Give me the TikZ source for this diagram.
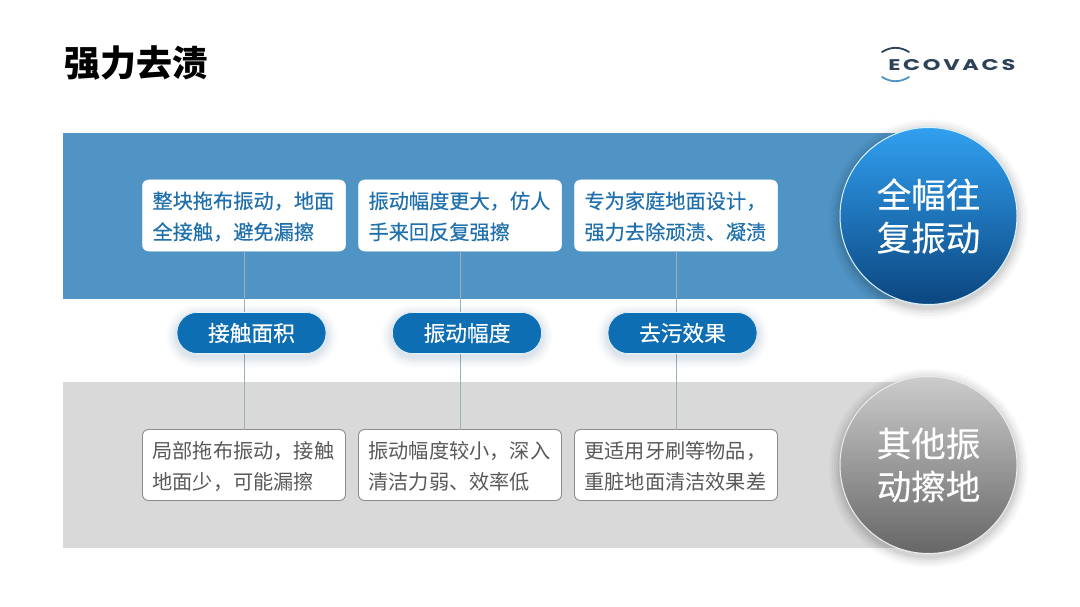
\documentclass[tikz,border=0pt]{standalone}
\usepackage{fontspec}
\setmainfont{Noto Sans CJK SC}
\newfontfamily\medfont[FakeBold=0.35]{Noto Sans CJK SC}
\newfontfamily\logofont[LetterSpace=12]{Poppins}
\usetikzlibrary{positioning}

\definecolor{bandblue}{HTML}{4F94C4}
\definecolor{bandgrey}{HTML}{D9D9D9}
\definecolor{textblue}{HTML}{1F70AC}
\definecolor{textgrey}{HTML}{595959}
\definecolor{pillblue}{HTML}{0E6EB4}
\definecolor{pillglow}{HTML}{3F6F95}
\definecolor{logonavy}{HTML}{2C4258}
\definecolor{linkgrey}{HTML}{9DB0BA}
\definecolor{disctop}{HTML}{31A0F0}
\definecolor{discmid}{HTML}{0F6EB8}
\definecolor{discbot}{HTML}{0B4680}

\tikzset{
  softglow/.style={
    preaction={draw=#1, opacity=.025, line width=22pt, transform canvas={yshift=-3pt}},
    preaction={draw=#1, opacity=.03, line width=17pt, transform canvas={yshift=-3pt}},
    preaction={draw=#1, opacity=.03, line width=12pt, transform canvas={yshift=-3pt}},
    preaction={draw=#1, opacity=.04, line width=8pt, transform canvas={yshift=-3pt}},
    preaction={draw=#1, opacity=.05, line width=4pt, transform canvas={yshift=-3pt}}
  },
  band/.style={anchor=north west, inner sep=0pt, minimum width=865pt, minimum height=166pt},
  upbox/.style={rectangle, rounded corners=6pt, fill=white, draw=white, line width=0.5pt, outer sep=0pt, minimum width=203pt, minimum height=71pt, inner xsep=10pt, inner ysep=0pt, text width=183pt, align=left, text depth=31pt, text=textblue, font=\fontsize{20.2}{31}\medfont},
  lowbox/.style={upbox, draw=gray!90, line width=0.9pt, text=textgrey, font=\fontsize{20.2}{31}\selectfont},
  pill/.style={rectangle, rounded corners=20pt, fill=pillblue, draw=cyan!12, line width=0.7pt, outer sep=0pt, minimum width=149pt, minimum height=41pt, inner sep=0pt, text=white, font=\fontsize{21.7}{24}\medfont, softglow=pillglow},
  disc/.style={circle, minimum size=177pt, inner sep=0pt, align=center, text=white, font=\fontsize{34.5}{43}\medfont, softglow=black},
  link/.style={linkgrey, line width=0.5pt}
}

\begin{document}
\begin{tikzpicture}[x=1pt, y=-1pt, node distance=13pt]
  \useasboundingbox[fill=white] (0,0) rectangle (1080,607);

  % Title and logo
  \node[anchor=west, inner sep=0pt, font=\fontsize{36}{40}\selectfont\bfseries] (title) at (64,63) {强力去渍};
  \node[anchor=west, inner sep=0pt, xscale=1.45, text=logonavy, font=\fontsize{15.5}{18}\logofont\bfseries] (logo) at (888,65.5) {ECOVACS};
  \draw[logonavy, line width=1.8pt, line cap=round] (882,52) to[bend left=32] (909,52);
  \draw[bandblue, line width=1.8pt, line cap=round] (882,77) to[bend right=32] (909,77);

  % Bands
  \node[band, fill=bandblue] (upband) at (63,133) {};
  \node[band, fill=bandgrey] (lowband) at (63,382) {};

  % Upper boxes
  \node[upbox] (up1) at (244,215.5) {整块拖布振动，地面\\全接触，避免漏擦};
  \node[upbox, right=of up1] (up2) {振动幅度更大，仿人\\手来回反复强擦};
  \node[upbox, right=of up2] (up3) {专为家庭地面设计，\\强力去除顽渍、凝渍};

  % Lower boxes
  \node[lowbox] (low1) at (244,465) {局部拖布振动，接触\\地面少，可能漏擦};
  \node[lowbox, right=of low1] (low2) {振动幅度较小，深入\\清洁力弱、效率低};
  \node[lowbox, right=of low2] (low3) {更适用牙刷等物品，\\重脏地面清洁效果差};

  % Links
  \draw[link] (up1) -- (low1);
  \draw[link] (up2) -- (low2);
  \draw[link] (up3) -- (low3);

  % Middle labels
  \node[pill] (pill1) at (251.5,333) {接触面积};
  \node[pill, right=66.5pt of pill1] (pill2) {振动幅度};
  \node[pill, right=66.5pt of pill2] (pill3) {去污效果};

  % Discs
  \node[disc, top color=disctop, middle color=discmid, bottom color=discbot, draw=cyan!15, line width=1pt] (disc1) at (928.5,216) {全幅往\\复振动};
  \node[disc, top color=black!20, middle color=black!38, bottom color=black!60, draw=white!85!gray, line width=1pt] (disc2) at (928.5,465) {其他振\\动擦地};
\end{tikzpicture}
\end{document}
